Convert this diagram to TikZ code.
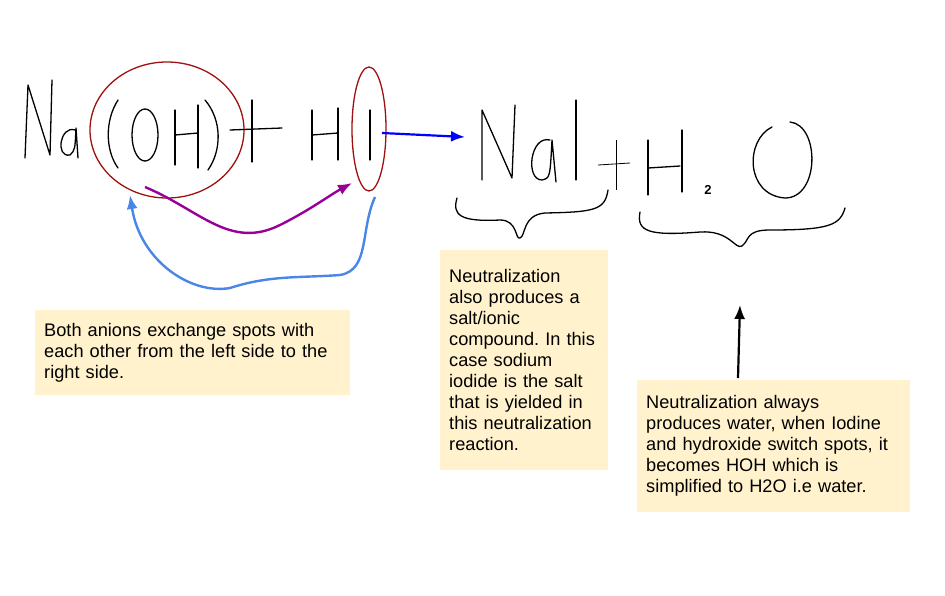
\documentclass[tikz,border=0pt]{standalone}
\usepackage{fontspec}
\setmainfont{Liberation Sans}
\usetikzlibrary{arrows.meta}
\frenchspacing
\begin{document}
\begin{tikzpicture}[x=1pt,y=-1pt,
  pen/.style={line width=1.3pt,line cap=round,line join=round},
  note/.style={fill=noteY,inner xsep=9pt,inner ysep=11pt,anchor=north west,align=left,font=\fontsize{18.2}{21}\selectfont},
  tip/.style={-{Latex[length=14pt,width=11pt]}},
  ]
\definecolor{noteY}{HTML}{FFF2CC}
\definecolor{dred}{HTML}{A01010}
\definecolor{lblue}{HTML}{4A86E8}
\useasboundingbox (0,0) rectangle (945,595);
% Na
\draw[pen] (25,158) -- (28,85) -- (50,155) -- (52,80);
\draw[pen] (75,130) .. controls (60,125) and (55,158) .. (70,155) .. controls (75,150) .. (76,128) -- (78,158);
% (OH)
\draw[pen] (118,100) .. controls (105,120) and (105,150) .. (118,168);
\draw[pen] (145,135) ellipse (13 and 26);
\draw[pen] (175,110) -- (175,165); \draw[pen] (175,135) -- (198,133); \draw[pen] (198,105) -- (198,168);
\draw[pen] (205,100) .. controls (222,120) and (222,150) .. (208,170);
\draw[line width=1.3pt,dred] (167,130) ellipse (77 and 68);
% +
\draw[pen] (252,100) -- (252,162); \draw[pen] (230,130) -- (282,128);
% HI
\draw[pen] (312,110) -- (312,160); \draw[pen] (312,135) -- (338,133); \draw[pen] (338,108) -- (338,160);
\draw[pen] (370,110) -- (370,160);
\draw[line width=1.3pt,dred] (369,129) ellipse (17 and 62);
% blue arrow
\draw[line width=2.2pt,blue,tip] (382,133) -- (465,137);
% NaI
\draw[pen] (482,180) -- (482,110) -- (512,178) -- (515,105);
\draw[pen] (550,140) .. controls (530,135) and (525,180) .. (542,180) .. controls (550,178) .. (552,140) -- (556,182);
\draw[pen] (576,100) -- (576,180);
% +
\draw[line width=0.8pt] (616,140) -- (616,190); \draw[line width=0.8pt] (598,165) -- (630,163);
% H2O
\draw[pen] (648,140) -- (648,195); \draw[pen] (648,168) -- (680,166); \draw[pen] (682,130) -- (682,192);
\node[font=\bfseries\fontsize{13}{13}\selectfont] (two) at (708,190) {2};
\draw[pen] (772,127) .. controls (745,140) and (745,195) .. (785,198) .. controls (820,198) and (820,125) .. (790,122);
% braces
\draw[pen] (457,198) .. controls (452,215) and (460,222) .. (500,220) .. controls (518,220) and (515,240) .. (520,238) .. controls (526,236) and (522,215) .. (545,213) .. controls (595,212) and (605,210) .. (608,190);
\draw[pen] (640,212) .. controls (636,232) and (650,236) .. (700,232) .. controls (730,230) and (735,250) .. (742,246) .. controls (750,240) and (745,230) .. (770,230) .. controls (830,230) and (840,225) .. (845,208);
% purple arrow
\draw[line width=2.4pt,violet!80!magenta,tip] (145,187) .. controls (200,210) and (230,250) .. (280,225) .. controls (310,210) and (330,195) .. (352,183);
% light blue arrow
\draw[line width=2.4pt,lblue,tip] (375,197) .. controls (360,230) and (370,270) .. (340,275) .. controls (300,278) and (270,275) .. (230,288) .. controls (190,295) and (140,260) .. (130,195);
% black arrow
\draw[line width=2.2pt,tip] (738,378) -- (740,305);
% notes
\node[note,text width=297pt,minimum height=85pt] (n1) at (35,310) {Both anions exchange spots with\\each other from the left side to the\\right side.};
\node[note,text width=150pt,minimum height=220pt] (n2) at (440,250) {Neutralization\\also produces a\\salt/ionic\\compound. In this\\case sodium\\iodide is the salt\\that is yielded in\\this neutralization\\reaction.};
\node[note,text width=255pt,minimum height=132pt] (n3) at (637,380) {Neutralization always\\produces water, when Iodine\\and hydroxide switch spots, it\\becomes HOH which is\\simplified to H2O i.e water.};
\end{tikzpicture}
\end{document}
